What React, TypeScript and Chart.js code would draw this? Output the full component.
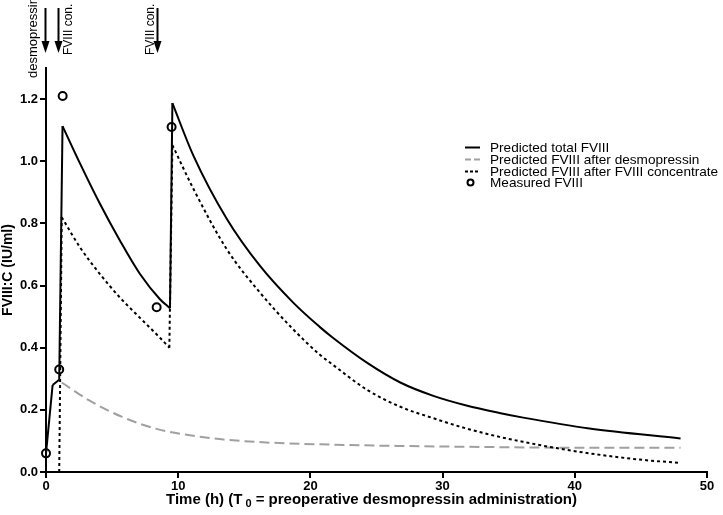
import React, { useEffect, useRef } from 'react';
import { Chart, registerables } from 'chart.js';

Chart.register(...registerables);

// Predicted total FVIII (solid)
const totalT = [0, 0.5, 1.0, 1.25, 2.57, 4.08, 5.6, 7.11, 8.62, 9.38, 9.56, 11.14, 13.67, 16.19, 18.7, 20.7, 21.7, 24.3, 26.8, 29.3, 31.8, 34.3, 36.1, 41.1, 48];
const totalV = [0.06, 0.28, 0.297, 1.113, 0.993, 0.863, 0.744, 0.637, 0.556, 0.527, 1.187, 1.019, 0.815, 0.663, 0.545, 0.467, 0.432, 0.351, 0.288, 0.245, 0.214, 0.19, 0.175, 0.14, 0.108];

// Predicted FVIII after desmopressin (grey dashed)
const desmoT = [1.19, 3.2, 5.72, 8.25, 10.76, 13.3, 15.8, 18.3, 20.6, 25.0, 34.3, 40, 48];
const desmoV = [0.288, 0.232, 0.178, 0.14, 0.119, 0.105, 0.097, 0.092, 0.089, 0.085, 0.08, 0.078, 0.078];

// Predicted FVIII after FVIII concentrate (black dotted)
const concT = [0, 1.0, 1.19, 2.57, 4.08, 5.6, 7.11, 8.62, 9.33, 9.56, 11.14, 13.67, 16.19, 18.7, 20.7, 21.7, 24.3, 26.8, 29.3, 31.8, 34.3, 36.1, 38.6, 41.1, 44.9, 48];
const concV = [0, 0, 0.82, 0.723, 0.637, 0.561, 0.496, 0.432, 0.4, 1.052, 0.912, 0.717, 0.577, 0.459, 0.378, 0.345, 0.264, 0.21, 0.173, 0.14, 0.113, 0.097, 0.077, 0.06, 0.04, 0.029];

// Measured FVIII (circles)
const measT = [0, 1.0, 1.26, 8.37, 9.5];
const measV = [0.06, 0.33, 1.21, 0.53, 1.11];

const xTicks = [0, 10, 20, 30, 40, 50];
const yTicks = [0, 0.2, 0.4, 0.6, 0.8, 1.0, 1.2];

const legendLabels = [
  'Predicted total FVIII',
  'Predicted FVIII after desmopressin',
  'Predicted FVIII after FVIII concentrate',
  'Measured FVIII',
];

const arrowTimes = [0, 1, 8.5];
const arrowLabels = ['desmopressin', 'FVIII con.', 'FVIII con.'];

const yTitle = 'FVIII:C (IU/ml)';
const xTitleA = 'Time (h) (T';
const xTitleSub = '0';
const xTitleB = ' = preoperative desmopressin administration)';

const FONT = 'Arial, "Liberation Sans", sans-serif';
const GREY = '#a0a0a0';

type Pt = { x: number; y: number };

// Split a series into straight rising jumps and smooth decaying runs
function splitRuns(t: number[], v: number[]) {
  const rises: Pt[][] = [];
  const decays: Pt[][] = [];
  let run: Pt[] = [{ x: t[0], y: v[0] }];
  for (let i = 0; i < t.length - 1; i++) {
    const a = { x: t[i], y: v[i] };
    const b = { x: t[i + 1], y: v[i + 1] };
    if (v[i + 1] > v[i]) {
      if (run.length > 1) decays.push(run);
      rises.push([a, b]);
      run = [b];
    } else {
      run.push(b);
    }
  }
  if (run.length > 1) decays.push(run);
  return { rises, decays };
}

function lineDatasets(t: number[], v: number[], style: any) {
  const { rises, decays } = splitRuns(t, v);
  const out: any[] = [];
  rises.forEach((d) => out.push({ ...style, data: d, pointRadius: 0, tension: 0 }));
  decays.forEach((d) => out.push({ ...style, data: d, pointRadius: 0, cubicInterpolationMode: 'monotone' }));
  return out;
}

const decorPlugin = {
  id: 'decor',
  afterDraw(chart: any) {
    const ctx = chart.ctx as CanvasRenderingContext2D;
    const xs = chart.scales.x;
    const area = chart.chartArea;
    ctx.save();

    // arrows and labels
    const labelDx = [-12, 10, -7];
    const labelBottom = [78, 55, 55];
    const labelSize = [13, 12, 12];
    arrowTimes.forEach((t, i) => {
      const x = Math.round(xs.getPixelForValue(t)) - 0.5;
      ctx.strokeStyle = '#000';
      ctx.fillStyle = '#000';
      ctx.lineWidth = 2;
      ctx.beginPath();
      ctx.moveTo(x, 8);
      ctx.lineTo(x, 44);
      ctx.stroke();
      ctx.beginPath();
      ctx.moveTo(x - 4, 41);
      ctx.lineTo(x + 4, 41);
      ctx.lineTo(x, 53);
      ctx.closePath();
      ctx.fill();

      ctx.save();
      ctx.translate(x + labelDx[i], labelBottom[i]);
      ctx.rotate(-Math.PI / 2);
      ctx.font = `${labelSize[i]}px ${FONT}`;
      ctx.textAlign = 'left';
      ctx.textBaseline = 'middle';
      ctx.fillText(arrowLabels[i], 0, 0);
      ctx.restore();
    });

    // y title
    ctx.save();
    ctx.translate(8, (area.top + area.bottom) / 2);
    ctx.rotate(-Math.PI / 2);
    ctx.font = `bold 14px ${FONT}`;
    ctx.textAlign = 'center';
    ctx.textBaseline = 'middle';
    ctx.fillStyle = '#000';
    ctx.fillText(yTitle, 0, 0);
    ctx.restore();

    // x title with subscript
    const big = `bold 15px ${FONT}`;
    const small = `bold 11px ${FONT}`;
    ctx.font = big;
    const wA = ctx.measureText(xTitleA).width;
    const gap = 3;
    ctx.font = small;
    const wS = ctx.measureText(xTitleSub).width;
    ctx.font = big;
    const wB = ctx.measureText(xTitleB).width;
    const total = wA + gap + wS + wB;
    let sx = (area.left + area.right) / 2 - 5 - total / 2;
    const by = 504;
    ctx.textAlign = 'left';
    ctx.textBaseline = 'alphabetic';
    ctx.fillStyle = '#000';
    ctx.fillText(xTitleA, sx, by);
    sx += wA + gap;
    ctx.font = small;
    ctx.fillText(xTitleSub, sx, by + 3);
    sx += wS;
    ctx.font = big;
    ctx.fillText(xTitleB, sx, by);

    // legend
    const rows = [147, 159, 171, 182];
    const lx0 = 465, lx1 = 480, tx = 490;
    ctx.font = `13.6px ${FONT}`;
    ctx.textBaseline = 'middle';
    ctx.fillStyle = '#000';
    legendLabels.forEach((lab, i) => {
      const y = rows[i] + 0.5;
      ctx.save();
      ctx.lineWidth = 2;
      ctx.strokeStyle = i === 1 ? GREY : '#000';
      if (i < 3) {
        ctx.setLineDash(i === 1 ? [6, 3] : i === 2 ? [3, 2] : []);
        ctx.beginPath();
        ctx.moveTo(lx0, y);
        ctx.lineTo(lx1, y);
        ctx.stroke();
      } else {
        ctx.beginPath();
        ctx.arc(470.5, y, 3, 0, Math.PI * 2);
        ctx.stroke();
      }
      ctx.restore();
      ctx.fillText(lab, tx, y + 1);
    });

    ctx.restore();
  },
};

export default function App() {
  const ref = useRef<HTMLCanvasElement | null>(null);

  useEffect(() => {
    if (!ref.current) return;
    const solid = { label: legendLabels[0], borderColor: '#000', borderWidth: 2 };
    const dotted = { label: legendLabels[2], borderColor: '#000', borderWidth: 2, borderDash: [3, 3] };
    const dashed = { label: legendLabels[1], borderColor: GREY, borderWidth: 2, borderDash: [10, 5] };
    const chart = new Chart(ref.current, {
      type: 'line',
      data: {
        datasets: [
          {
            label: legendLabels[3],
            data: measT.map((x, i) => ({ x, y: measV[i] })),
            showLine: false,
            pointRadius: 4,
            pointBorderWidth: 2,
            pointBorderColor: '#000',
            pointBackgroundColor: 'rgba(0,0,0,0)',
            clip: false as any,
          },
          ...lineDatasets(totalT, totalV, solid),
          ...lineDatasets(concT, concV, dotted),
          ...lineDatasets(desmoT, desmoV, dashed),
        ],
      },
      options: {
        responsive: false,
        animation: false,
        events: [],
        layout: { padding: { top: 68, right: 16, left: 0, bottom: 0 } },
        plugins: {
          legend: { display: false },
          tooltip: { enabled: false },
          title: { display: false },
        },
        scales: {
          x: {
            type: 'linear',
            min: 0,
            max: 50,
            afterBuildTicks: (axis: any) => {
              axis.ticks = xTicks.map((v) => ({ value: v }));
            },
            afterFit: (scale: any) => {
              scale.height = 43;
            },
            ticks: {
              color: '#000',
              font: { family: FONT, size: 13, weight: 'bold' },
              padding: 1,
              maxRotation: 0,
              callback: (v: any) => String(v),
            },
            grid: {
              display: true,
              drawOnChartArea: false,
              drawTicks: true,
              tickLength: 6,
              color: '#000',
              lineWidth: 2,
            },
            border: { display: true, color: '#000', width: 2 },
          },
          y: {
            type: 'linear',
            min: 0,
            max: 1.3,
            afterBuildTicks: (axis: any) => {
              axis.ticks = yTicks.map((v) => ({ value: v }));
            },
            afterFit: (scale: any) => {
              scale.width = 46;
            },
            ticks: {
              color: '#000',
              font: { family: FONT, size: 13, weight: 'bold' },
              padding: 2,
              callback: (v: any) => Number(v).toFixed(1),
            },
            grid: {
              display: true,
              drawOnChartArea: false,
              drawTicks: true,
              tickLength: 6,
              color: '#000',
              lineWidth: 2,
            },
            border: { display: true, color: '#000', width: 2 },
          },
        },
      },
      plugins: [decorPlugin],
    } as any);
    return () => chart.destroy();
  }, []);

  return (
    <div style={{ position: 'absolute', left: 0, top: 0, width: 723, height: 515, background: '#fff' }}>
      <canvas ref={ref} width={723} height={515} />
    </div>
  );
}
